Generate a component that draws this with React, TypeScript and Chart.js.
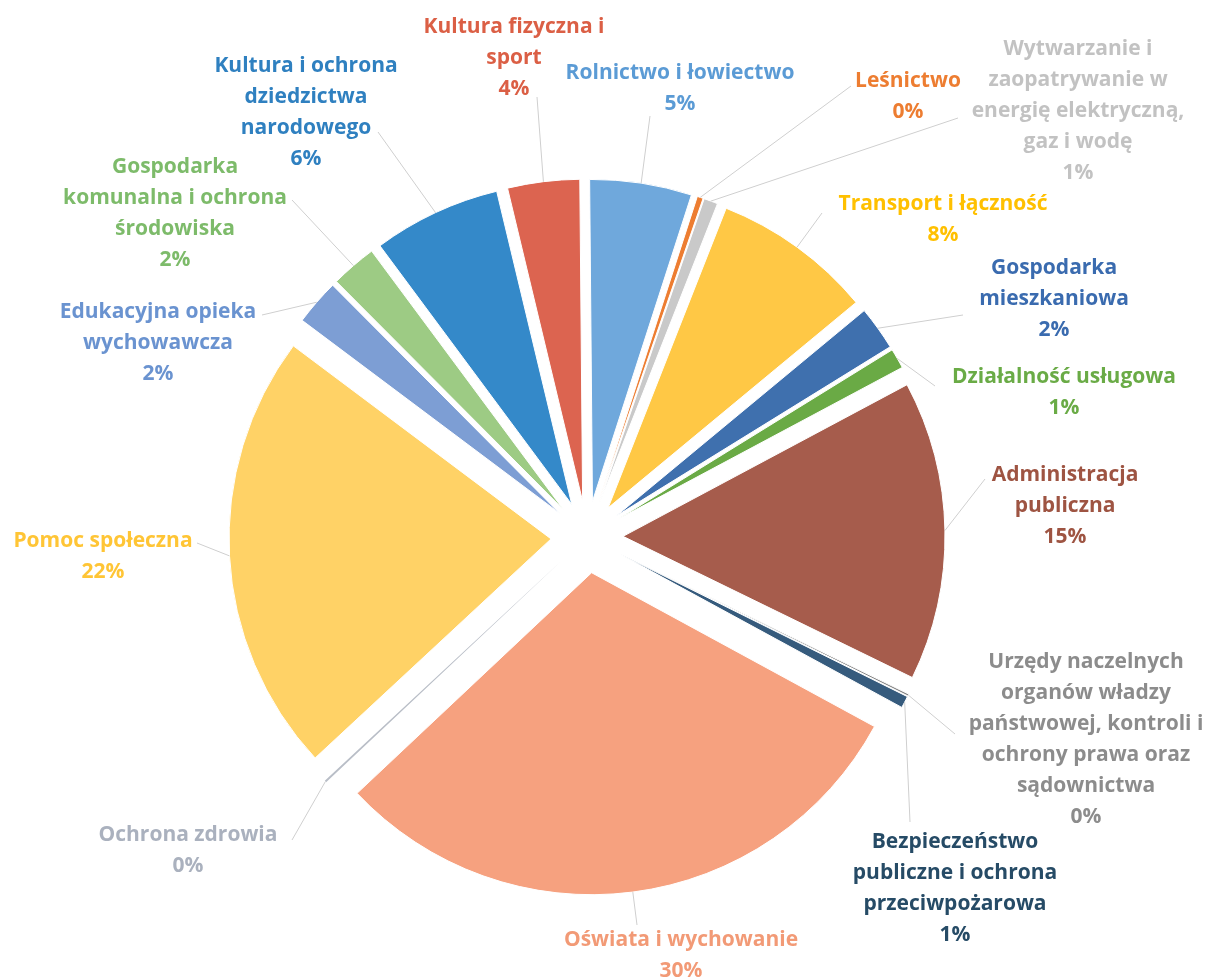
import React, { useEffect, useRef } from "react";
import { Chart, registerables } from "chart.js";

Chart.register(...registerables);

// ---- data (clockwise from 12 o'clock) ----
const categories = [
  "Rolnictwo i łowiectwo",
  "Leśnictwo",
  "Wytwarzanie i zaopatrywanie w energię elektryczną, gaz i wodę",
  "Transport i łączność",
  "Gospodarka mieszkaniowa",
  "Działalność usługowa",
  "Administracja publiczna",
  "Urzędy naczelnych organów władzy państwowej, kontroli i ochrony prawa oraz sądownictwa",
  "Bezpieczeństwo publiczne i ochrona przeciwpożarowa",
  "Oświata i wychowanie",
  "Ochrona zdrowia",
  "Pomoc społeczna",
  "Edukacyjna opieka wychowawcza",
  "Gospodarka komunalna i ochrona środowiska",
  "Kultura i ochrona dziedzictwa narodowego",
  "Kultura fizyczna i sport",
];

const shares = [5.1, 0.3, 0.7, 8.0, 2.2, 1.0, 15.0, 0.1, 0.6, 30.0, 0.1, 22.1, 2.3, 2.3, 6.4, 3.6];

// label text as wrapped in the picture
const labelLines = [
  ["Rolnictwo i łowiectwo"],
  ["Leśnictwo"],
  ["Wytwarzanie i", "zaopatrywanie w", "energię elektryczną,", "gaz i wodę"],
  ["Transport i łączność"],
  ["Gospodarka", "mieszkaniowa"],
  ["Działalność usługowa"],
  ["Administracja", "publiczna"],
  ["Urzędy naczelnych", "organów władzy", "państwowej, kontroli i", "ochrony prawa oraz", "sądownictwa"],
  ["Bezpieczeństwo", "publiczne i ochrona", "przeciwpożarowa"],
  ["Oświata i wychowanie"],
  ["Ochrona zdrowia"],
  ["Pomoc społeczna"],
  ["Edukacyjna opieka", "wychowawcza"],
  ["Gospodarka", "komunalna i ochrona", "środowiska"],
  ["Kultura i ochrona", "dziedzictwa", "narodowego"],
  ["Kultura fizyczna i", "sport"],
];

// ---- styles ----
const sliceColors = [
  "#6FA8DC", "#ED7D31", "#C9C9C9", "#FFC845", "#3F70AE", "#6AAA45", "#A65C4C", "#7F7F7F",
  "#365B7D", "#F6A17F", "#B9BEC7", "#FFD266", "#7D9ED4", "#9DCB84", "#3489C9", "#DC6450",
];
const sliceBorders = [1, 1, 1, 1, 1, 1, 1, 1, 1, 1, 0, 1, 1, 1, 1, 1];
const labelColors = [
  "#5B9BD5", "#ED7D31", "#C2C2C2", "#FFC000", "#3A6BAF", "#6AAB46", "#9E5442", "#8C8C8C",
  "#264B66", "#F29A76", "#AAB1BE", "#FFC535", "#6A93D0", "#7DBB6A", "#2F80C0", "#DB5F45",
];

// ---- layout (label anchors: centre x, first line y; leader line start) ----
const RADIUS = 322;
const EXPLODE = 36;
const LINE_H = 31;
const FONT = "bold 21px 'Open Sans'";
const labelAnchors = [
  [680, 73], [908, 81], [1078, 49], [943, 204], [1054, 268], [1064, 377], [1065, 475], [1086, 662],
  [955, 842], [681, 940], [188, 835], [103, 541], [158, 312], [175, 167], [306, 66], [514, 27],
];
const leaderStarts = [
  [650, 116], [851, 86], [958, 118], [822, 213], [963, 315], [935, 386], [985, 479], [955, 734],
  [910, 822], [637, 925], [292, 840], [197, 543], [262, 315], [292, 200], [378, 132], [537, 97],
];

// explode every slice outward along its own bisector (pulled-out pie)
const explodePlugin = {
  id: "explode",
  beforeDatasetsDraw(chart: any) {
    const { left, right, top, bottom } = chart.chartArea;
    const cx = (left + right) / 2;
    const cy = (top + bottom) / 2;
    chart.getDatasetMeta(0).data.forEach((el: any) => {
      const mid = (el.startAngle + el.endAngle) / 2;
      el.x = cx + Math.cos(mid) * EXPLODE;
      el.y = cy + Math.sin(mid) * EXPLODE;
    });
  },
};

const outerLabels = {
  id: "outerLabels",
  afterDatasetsDraw(chart: any) {
    const ctx = chart.ctx as CanvasRenderingContext2D;
    const meta = chart.getDatasetMeta(0);
    const data = chart.data.datasets[0].data as number[];
    const total = data.reduce((a, b) => a + b, 0);
    ctx.save();
    meta.data.forEach((el: any, i: number) => {
      const mid = (el.startAngle + el.endAngle) / 2;
      const ax = el.x + Math.cos(mid) * el.outerRadius;
      const ay = el.y + Math.sin(mid) * el.outerRadius;
      const [sx, sy] = leaderStarts[i];
      ctx.strokeStyle = "#CFCFCF";
      ctx.lineWidth = 1;
      ctx.beginPath();
      ctx.moveTo(sx, sy);
      ctx.lineTo(ax, ay);
      ctx.stroke();

      const pct = Math.round((data[i] / total) * 100) + "%";
      const lines = [...labelLines[i], pct];
      const [lx, ly] = labelAnchors[i];
      ctx.font = FONT;
      ctx.fillStyle = labelColors[i];
      ctx.textAlign = "center";
      ctx.textBaseline = "middle";
      lines.forEach((ln, k) => ctx.fillText(ln, lx, ly + k * LINE_H));
    });
    ctx.restore();
  },
};

export default function App() {
  const ref = useRef<HTMLCanvasElement | null>(null);
  useEffect(() => {
    if (!ref.current) return;
    const chart = new Chart(ref.current, {
      type: "pie",
      data: {
        labels: categories,
        datasets: [
          {
            data: shares,
            backgroundColor: sliceColors,
            borderColor: "#FFFFFF",
            borderWidth: sliceBorders,
            offset: 0,
            radius: RADIUS,
            rotation: -0.5,
          } as any,
        ],
      },
      options: {
        responsive: false,
        animation: false,
        events: [],
        layout: { padding: { left: 0, right: 36, top: 95, bottom: 0 } },
        plugins: { legend: { display: false }, tooltip: { enabled: false } },
      },
      plugins: [explodePlugin, outerLabels],
    });
    return () => chart.destroy();
  }, []);
  return (
    <div style={{ position: "fixed", left: 0, top: 0, width: 1210, height: 979, background: "#fff" }}>
      <canvas ref={ref} width={1210} height={979} style={{ display: "block" }} />
    </div>
  );
}
